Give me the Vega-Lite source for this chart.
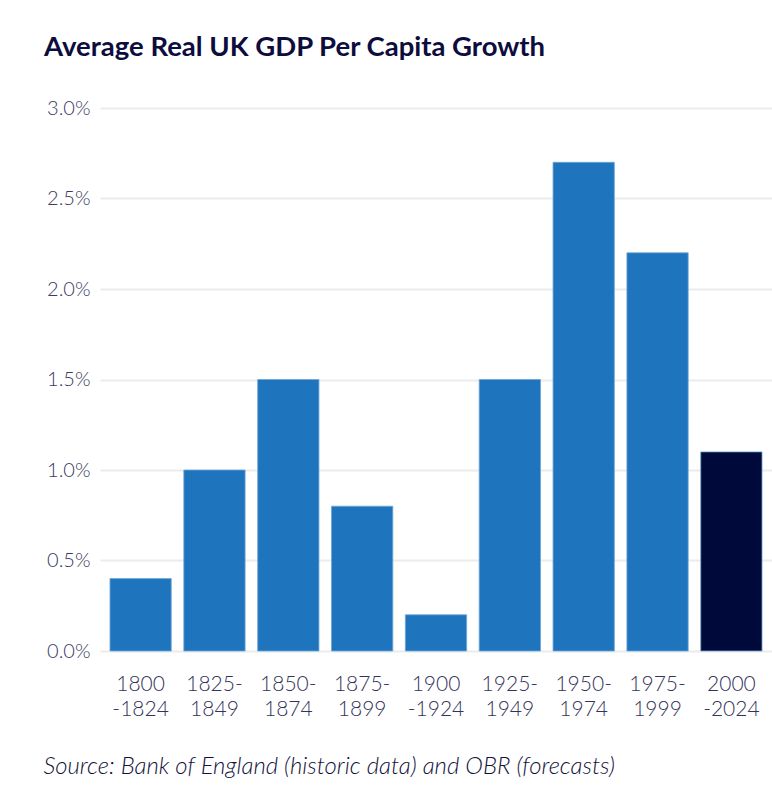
{
  "$schema": "https://vega.github.io/schema/vega-lite/v6.json",
  "autosize": "none",
  "width": 672,
  "height": 543,
  "padding": {"left": 100, "top": 108, "right": 0, "bottom": 158},
  "background": "white",
  "title": {
    "text": "Average Real UK GDP Per Capita Growth",
    "anchor": "start",
    "frame": "group",
    "dx": -56,
    "offset": 37,
    "font": "Lato",
    "fontSize": 27.5,
    "fontWeight": "bold",
    "color": "#0d0d3d"
  },
  "data": {
    "values": [
      {"period": "1800\n-1824", "growth": 0.004, "type": "historic"},
      {"period": "1825-\n1849", "growth": 0.010, "type": "historic"},
      {"period": "1850-\n1874", "growth": 0.015, "type": "historic"},
      {"period": "1875-\n1899", "growth": 0.008, "type": "historic"},
      {"period": "1900\n-1924", "growth": 0.002, "type": "historic"},
      {"period": "1925-\n1949", "growth": 0.015, "type": "historic"},
      {"period": "1950-\n1974", "growth": 0.027, "type": "historic"},
      {"period": "1975-\n1999", "growth": 0.022, "type": "historic"},
      {"period": "2000\n-2024", "growth": 0.011, "type": "forecast"}
    ]
  },
  "mark": {"type": "bar", "stroke": "#6fa6d8", "strokeWidth": 0.8},
  "encoding": {
    "x": {
      "field": "period",
      "type": "nominal",
      "sort": null,
      "scale": {"paddingInner": 0.17, "paddingOuter": 0.135},
      "axis": {
        "title": "Source: Bank of England (historic data) and OBR (forecasts)",
        "titleFont": "Lato",
        "titleFontStyle": "italic",
        "titleFontWeight": 300,
        "titleFontSize": 23.9,
        "titleColor": "#12123a",
        "titleAnchor": "start",
        "titleAlign": "left",
        "titleBaseline": "alphabetic",
        "titleX": -57,
        "titleY": 122,
        "labelExpr": "split(datum.label, '\\n')",
        "labelAngle": 0,
        "labelFont": "Lato",
        "labelFontWeight": 300,
        "labelFontSize": 21,
        "labelColor": "#33335a",
        "labelLineHeight": 25,
        "labelPadding": 22,
        "ticks": false,
        "domain": false
      }
    },
    "y": {
      "field": "growth",
      "type": "quantitative",
      "scale": {"domain": [0, 0.03], "nice": false},
      "axis": {
        "title": null,
        "format": ".1%",
        "values": [0, 0.005, 0.01, 0.015, 0.02, 0.025, 0.03],
        "labelFont": "Lato",
        "labelFontWeight": 300,
        "labelFontSize": 20,
        "labelColor": "#3a3a62",
        "labelPadding": 10,
        "ticks": false,
        "domain": false,
        "gridColor": "#ebebeb",
        "gridWidth": 2
      }
    },
    "color": {
      "field": "type",
      "type": "nominal",
      "scale": {"domain": ["historic", "forecast"], "range": ["#1f75bd", "#000a3a"]},
      "legend": null
    }
  },
  "config": {"view": {"stroke": null}}
}
